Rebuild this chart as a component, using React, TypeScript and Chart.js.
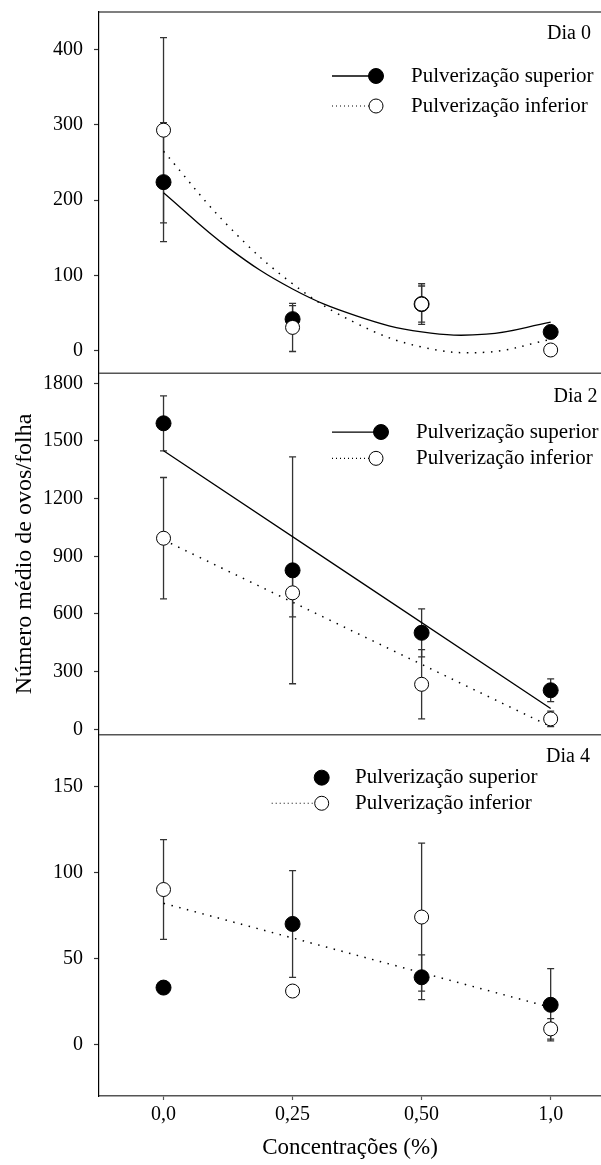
import React, { useEffect, useRef } from "react";
import { Chart, registerables } from "chart.js";

Chart.register(...registerables);

// ---------- data ----------
const categories = ["0,0", "0,25", "0,50", "1,0"];
const categoryIndex = [0, 1, 2, 3];
const dayLabels = ["Dia 0", "Dia 2", "Dia 4"];
const seriesNames = ["Pulverização superior", "Pulverização inferior"];
const xTitle = "Concentrações (%)";
const yTitle = "Número médio de ovos/folha";

// Dia 0
const supD0 = [224, 42, 62, 25];
const supD0Err = [79, 18, 24, 0];
const infD0 = [293, 31, 62, 1];
const infD0Err = [123, 32, 27, 0];
const supD0FitX = [0, 0.5, 1, 1.5, 2, 2.5, 3];
const supD0FitY = [210, 137, 82, 46, 25, 22, 38];
const infD0FitX = [0, 0.5, 1, 1.5, 2, 2.5, 3];
const infD0FitY = [265, 166, 89, 36, 5, -2, 15];

// Dia 2
const supD2 = [1592, 827, 502, 203];
const supD2Err = [143, 590, 125, 59];
const infD2 = [994, 710, 234, 54];
const infD2Err = [316, 125, 180, 40];
const supD2FitX = [0, 3];
const supD2FitY = [1449, 108];
const infD2FitX = [0, 3];
const infD2FitY = [985, 14];

// Dia 4
const supD4 = [33, 70, 39, 23];
const supD4Err = [0, 31, 13, 21];
const infD4 = [90, 31, 74, 9];
const infD4Err = [29, 0, 43, 6];
const infD4FitX = [0, 3];
const infD4FitY = [82, 21.5];

// axes
const yTicksD0 = [0, 100, 200, 300, 400];
const yTicksD2 = [0, 300, 600, 900, 1200, 1500, 1800];
const yTicksD4 = [0, 50, 100, 150];
const yRangeD0 = [-30, 450];
const yRangeD2 = [-28, 1852];
const yRangeD4 = [-30, 180];
const xRange = [-0.5, 3.39];

// ---------- styling ----------
const FONT = "'Liberation Serif', 'Times New Roman', serif";
const DOT_DASH = [1.5, 6.5];

const pts = (xs: number[], ys: number[]) => xs.map((x, i) => ({ x, y: ys[i] }));

function markerDs(values: number[], errs: number[], axis: string, filled: boolean) {
  return {
    type: "scatter",
    data: pts(categoryIndex, values),
    yAxisID: axis,
    showLine: false,
    pointRadius: filled ? 7.5 : 7,
    pointBackgroundColor: filled ? "#000" : "#fff",
    pointBorderColor: "#000",
    pointBorderWidth: 1,
    order: filled ? 2 : 1,
    errors: errs,
  } as any;
}

function fitDs(xs: number[], ys: number[], axis: string, dotted: boolean) {
  return {
    type: "scatter",
    data: pts(xs, ys),
    yAxisID: axis,
    showLine: true,
    borderColor: "#000",
    borderWidth: dotted ? 1.5 : 1.3,
    borderDash: dotted ? DOT_DASH : [],
    pointRadius: 0,
    fill: false,
    tension: 0.4,
    order: 3,
  } as any;
}

const errorBarPlugin = {
  id: "errorBars",
  beforeDatasetsDraw(chart: any) {
    const ctx = chart.ctx;
    const xs = chart.scales.x;
    ctx.save();
    ctx.strokeStyle = "#333";
    ctx.lineWidth = 1.3;
    chart.data.datasets.forEach((ds: any) => {
      if (!ds.errors) return;
      const ys = chart.scales[ds.yAxisID];
      ds.data.forEach((p: any, i: number) => {
        const e = ds.errors[i];
        if (!e) return;
        const x = xs.getPixelForValue(p.x);
        const y1 = ys.getPixelForValue(p.y + e);
        const y2 = ys.getPixelForValue(p.y - e);
        ctx.beginPath();
        ctx.moveTo(x, y1);
        ctx.lineTo(x, y2);
        ctx.moveTo(x - 3.5, y1);
        ctx.lineTo(x + 3.5, y1);
        ctx.moveTo(x - 3.5, y2);
        ctx.lineTo(x + 3.5, y2);
        ctx.stroke();
      });
    });
    ctx.restore();
  },
};

const framePlugin = {
  id: "frames",
  afterDraw(chart: any) {
    const ctx = chart.ctx;
    const { left, right, top } = chart.chartArea;
    ctx.save();
    ctx.strokeStyle = "#000";
    ctx.lineWidth = 1.2;
    ctx.beginPath();
    ctx.moveTo(left, top);
    ctx.lineTo(right, top);
    ctx.stroke();
    ctx.strokeStyle = "#555";
    ctx.lineWidth = 1.5;
    ["y0", "y2"].forEach((id) => {
      const b = chart.scales[id].bottom;
      ctx.beginPath();
      ctx.moveTo(left, b);
      ctx.lineTo(right, b);
      ctx.stroke();
    });
    ctx.restore();
  },
};

const legendLayouts = [
  {
    axis: "y0",
    dayX: 591,
    dayDy: 22.2,
    textX: 411,
    rows: [
      { dy: 64, filled: true, line: "solid", lineFrom: 332, lineTo: 370, markerX: 376 },
      { dy: 94, filled: false, line: "dotted", lineFrom: 332, lineTo: 369, markerX: 376 },
    ],
  },
  {
    axis: "y2",
    dayX: 597.5,
    dayDy: 23.4,
    textX: 416,
    rows: [
      { dy: 58.7, filled: true, line: "solid", lineFrom: 332, lineTo: 374, markerX: 381 },
      { dy: 85, filled: false, line: "dotted", lineFrom: 332, lineTo: 369, markerX: 376 },
    ],
  },
  {
    axis: "y4",
    dayX: 590,
    dayDy: 22,
    textX: 355,
    rows: [
      { dy: 43, filled: true, line: "none", lineFrom: 0, lineTo: 0, markerX: 321.7 },
      { dy: 68.6, filled: false, line: "dotted", lineFrom: 271.7, lineTo: 314, markerX: 321.7 },
    ],
  },
];

const legendPlugin = {
  id: "panelLegends",
  afterDatasetsDraw(chart: any) {
    const ctx = chart.ctx;
    ctx.save();
    legendLayouts.forEach((lay, pi) => {
      const T = chart.scales[lay.axis].top;
      ctx.fillStyle = "#000";
      ctx.font = `20px ${FONT}`;
      ctx.textAlign = "right";
      ctx.textBaseline = "middle";
      ctx.fillText(dayLabels[pi], lay.dayX, T + lay.dayDy);
      lay.rows.forEach((r, ri) => {
        const y = T + r.dy;
        if (r.line !== "none") {
          ctx.beginPath();
          ctx.strokeStyle = "#000";
          if (r.line === "dotted") {
            ctx.lineWidth = 1.2;
            ctx.setLineDash([1, 3]);
          } else {
            ctx.lineWidth = 1.3;
            ctx.setLineDash([]);
          }
          ctx.moveTo(r.lineFrom, y);
          ctx.lineTo(r.lineTo, y);
          ctx.stroke();
          ctx.setLineDash([]);
        }
        ctx.beginPath();
        ctx.arc(r.markerX, y, r.filled ? 7.5 : 7, 0, Math.PI * 2);
        ctx.fillStyle = r.filled ? "#000" : "#fff";
        ctx.fill();
        ctx.lineWidth = 1;
        ctx.strokeStyle = "#000";
        ctx.stroke();
        ctx.fillStyle = "#000";
        ctx.font = `21px ${FONT}`;
        ctx.textAlign = "left";
        ctx.textBaseline = "middle";
        ctx.fillText(seriesNames[ri], lay.textX, y);
      });
    });
    ctx.restore();
  },
};

function yAxis(range: number[], ticks: number[], weight: number, withTitle: boolean) {
  return {
    type: "linear",
    position: "left",
    stack: "panels",
    stackWeight: 1,
    weight,
    min: range[0],
    max: range[1],
    afterBuildTicks: (s: any) => {
      s.ticks = ticks.map((v) => ({ value: v }));
    },
    afterFit: (s: any) => {
      s.width = 99;
      s.paddingTop = 0;
      s.paddingBottom = 0;
    },
    ticks: {
      callback: (v: any) => String(v),
      font: { size: 20, family: FONT },
      color: "#000",
      padding: 11,
      autoSkip: false,
    },
    grid: {
      display: true,
      drawOnChartArea: false,
      drawTicks: true,
      tickLength: 5,
      tickWidth: 1.2,
      color: "#333",
    },
    border: { display: true, color: "#000", width: 1.2 },
    title: {
      display: withTitle,
      text: yTitle,
      font: { size: 24, family: FONT },
      color: "#000",
      padding: { top: 10, bottom: 0 },
    },
  } as any;
}

export default function App() {
  const canvasRef = useRef<HTMLCanvasElement | null>(null);

  useEffect(() => {
    const canvas = canvasRef.current;
    if (!canvas) return;
    Chart.defaults.font.family = FONT;
    Chart.defaults.color = "#000";

    const chart = new Chart(canvas, {
      type: "scatter",
      data: {
        datasets: [
          markerDs(infD0, infD0Err, "y0", false),
          markerDs(supD0, supD0Err, "y0", true),
          fitDs(supD0FitX, supD0FitY, "y0", false),
          fitDs(infD0FitX, infD0FitY, "y0", true),
          markerDs(infD2, infD2Err, "y2", false),
          markerDs(supD2, supD2Err, "y2", true),
          fitDs(supD2FitX, supD2FitY, "y2", false),
          fitDs(infD2FitX, infD2FitY, "y2", true),
          markerDs(infD4, infD4Err, "y4", false),
          markerDs(supD4, supD4Err, "y4", true),
          fitDs(infD4FitX, infD4FitY, "y4", true),
        ],
      },
      options: {
        animation: false,
        responsive: false,
        devicePixelRatio: 1,
        layout: { autoPadding: false, padding: { top: 12, left: 0, right: 0, bottom: 0 } },
        plugins: {
          legend: { display: false },
          tooltip: { enabled: false },
        },
        scales: {
          x: {
            type: "linear",
            position: "bottom",
            min: xRange[0],
            max: xRange[1],
            afterBuildTicks: (s: any) => {
              s.ticks = categoryIndex.map((v) => ({ value: v }));
            },
            afterFit: (s: any) => {
              s.height = 69;
              s.paddingLeft = 0;
              s.paddingRight = 0;
            },
            ticks: {
              callback: (v: any) => categories[v] ?? "",
              font: { size: 20, family: FONT },
              color: "#000",
              padding: 3,
              autoSkip: false,
              maxRotation: 0,
            },
            grid: {
              display: true,
              drawOnChartArea: false,
              drawTicks: true,
              tickLength: 4,
              tickWidth: 1.2,
              color: "#555",
            },
            border: { display: true, color: "#555", width: 1.5 },
            title: {
              display: true,
              text: xTitle,
              font: { size: 23, family: FONT },
              color: "#000",
              padding: { top: 4, bottom: 3 },
            },
          },
          y0: yAxis(yRangeD0, yTicksD0, 3, false),
          y2: yAxis(yRangeD2, yTicksD2, 2, true),
          y4: yAxis(yRangeD4, yTicksD4, 1, false),
        },
      } as any,
      plugins: [errorBarPlugin, framePlugin, legendPlugin],
    });
    return () => chart.destroy();
  }, []);

  return (
    <div style={{ position: "absolute", left: 0, top: 0, width: 601, height: 1165, background: "#fff" }}>
      <canvas ref={canvasRef} width={601} height={1165} style={{ width: 601, height: 1165, display: "block" }} />
    </div>
  );
}
